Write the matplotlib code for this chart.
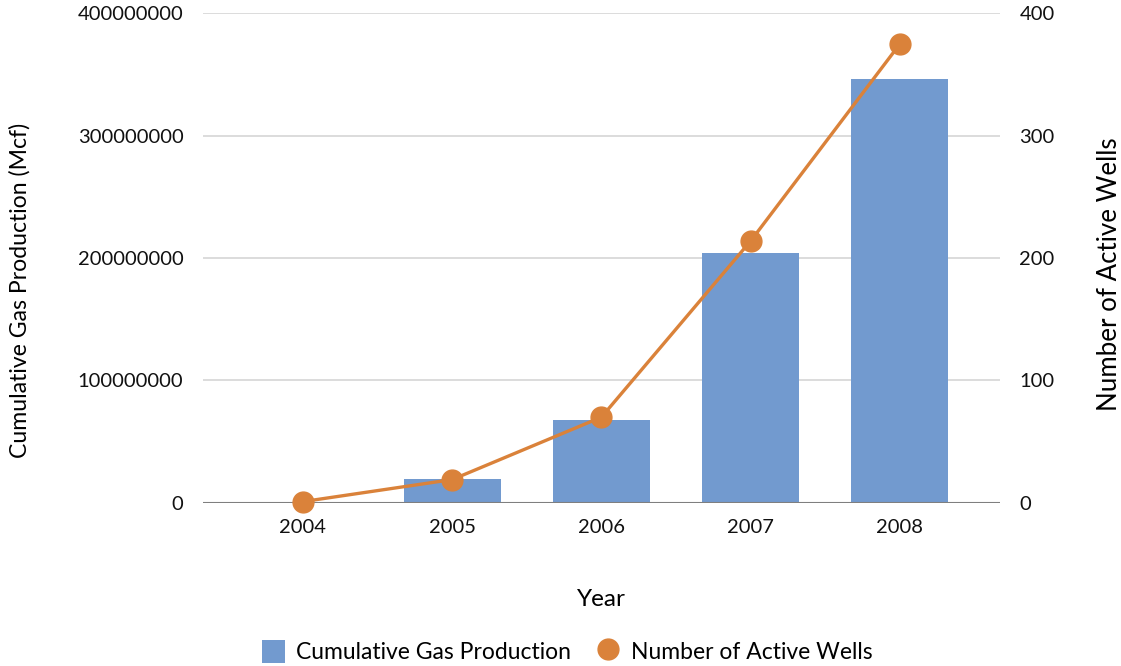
import matplotlib.pyplot as plt
from matplotlib.ticker import FuncFormatter

plt.rcParams['font.family'] = ['Lato', 'DejaVu Sans']

# data
years = ["2004", "2005", "2006", "2007", "2008"]
gas_mcf = [300000, 19600000, 67800000, 204500000, 346000000]
wells = [1, 19, 70, 214, 375]

bar_color = "#729ACF"
line_color = "#DA823A"

fig = plt.figure(figsize=(11.21, 6.66), dpi=100)
ax = fig.add_axes([0.181, 0.245, 0.711, 0.735])
ax2 = ax.twinx()

x = list(range(len(years)))
ax.bar(x, gas_mcf, width=0.65, color=bar_color, zorder=2, label="Cumulative Gas Production")
ax2.plot(x, wells, color=line_color, linewidth=2.4, marker="o", markersize=15,
         label="Number of Active Wells", clip_on=False, zorder=3)

ax.set_xlim(-0.67, 4.67)
ax.set_ylim(0, 400000000)
ax2.set_ylim(0, 400)
ax.set_yticks([0, 100000000, 200000000, 300000000, 400000000])
ax2.set_yticks([0, 100, 200, 300, 400])
ax.yaxis.set_major_formatter(FuncFormatter(lambda v, p: "%d" % v))
ax.set_xticks(x)
ax.set_xticklabels(years)

ax.grid(axis="y", color="#D9D9D9", linewidth=1.3, zorder=0)
ax.set_axisbelow(True)
for a in (ax, ax2):
    for s in ("top", "left", "right", "bottom"):
        a.spines[s].set_visible(False)
    a.tick_params(length=0, labelsize=14.5, colors="#111111")
ax.axhline(0, color="#7F7F7F", linewidth=1.5, zorder=4)
ax.tick_params(axis="y", pad=14)
ax.tick_params(axis="x", pad=12)
ax2.tick_params(axis="y", pad=14)

ax.set_xlabel("Year", fontsize=17.5, labelpad=38)
ax.set_ylabel("Cumulative Gas Production (Mcf)", fontsize=16.6)
ax2.set_ylabel("Number of Active Wells", fontsize=18.6)
ax.yaxis.set_label_coords(-0.216, 0.433)
ax2.yaxis.set_label_coords(1.122, 0.468)

h1, l1 = ax.get_legend_handles_labels()
h2, l2 = ax2.get_legend_handles_labels()
fig.legend(h1 + [plt.Line2D([], [], color=line_color, marker="o", markersize=15, linestyle="")],
           l1 + l2, loc="center", bbox_to_anchor=(0.506, 0.022), ncol=2, frameon=False,
           fontsize=16.5, handlelength=1.0, handleheight=1.2, columnspacing=1.1, handletextpad=0.5)

fig.savefig("out.png", dpi=100)
